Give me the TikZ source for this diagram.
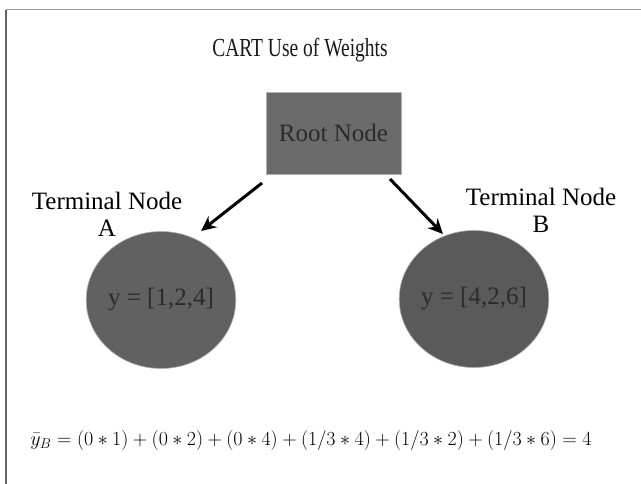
\RequirePackage{fix-cm}
\documentclass[tikz,border=0pt]{standalone}
\usepackage{fontspec}
\setmainfont{Liberation Serif}
\usetikzlibrary{arrows.meta,shapes.geometric}
\definecolor{boxgray}{HTML}{6B6B6B}
\definecolor{circA}{HTML}{616161}
\definecolor{circB}{HTML}{5A5A5A}
\definecolor{innertext}{HTML}{2B2B2B}
\begin{document}
\begin{tikzpicture}[x=1pt,y=-1pt,
  body/.style={font=\fontsize{25}{27}\selectfont},
  rootbox/.style={body, rectangle, fill=boxgray, draw=gray!60, line width=0.4pt,
    minimum width=135pt, minimum height=82pt, text=innertext, inner sep=0pt},
  leaf/.style={body, ellipse, draw=gray!65, line width=0.6pt,
    minimum width=146pt, minimum height=137pt, text=innertext, inner sep=0pt},
  lbl/.style={body, align=center, inner sep=0pt},
  conn/.style={line width=3pt, -{Stealth[length=15pt,width=14pt]}}
]
\useasboundingbox (0,0) rectangle (641,484);
\fill[white] (0,0) rectangle (641,484);
\draw[draw=black!40, line width=1pt] (6,10) -- (641,10);
\draw[draw=black!60, line width=1.5pt] (6,10) -- (6,484);
\node[font=\fontsize{26}{28}\selectfont, text=black!90, anchor=base] (title) at (300,57)
  {\scalebox{0.75}[1]{CART Use of Weights}};
\node[rootbox] (root) at (333.5,133) {Root Node};
\node[leaf, fill=circA] (A) at (161,300) {y = [1,2,4]};
\node[leaf, fill=circB] (B) at (474,299) {y = [4,2,6]};
\node[lbl] (labA) at (107,214) {Terminal Node\\A};
\node[lbl] (labB) at (541,210) {Terminal Node\\B};
\coordinate (a1s) at (262,183);
\coordinate (a1e) at (201,231);
\coordinate (a2s) at (390,179);
\coordinate (a2e) at (443,234);
\draw[conn] (a1s) -- (a1e);
\draw[conn] (a2s) -- (a2e);
\node[font=\fontsize{20}{22}\selectfont] (formula) at (311,440)
  {$\bar{y}_B = (0*1)+(0*2)+(0*4)+(1/3*4)+(1/3*2)+(1/3*6)=4$};
\end{tikzpicture}
\end{document}
